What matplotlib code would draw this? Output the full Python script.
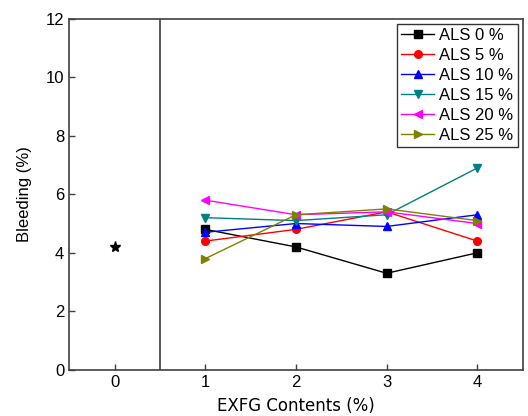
import numpy as np
import matplotlib
matplotlib.use("Agg")
import matplotlib.pyplot as plt

plt.rcParams['font.family'] = ['Liberation Sans', 'DejaVu Sans']
plt.rcParams['font.size'] = 12

# EXFG content (%) and bleeding (%) per ALS dosage
exfg = [1, 2, 3, 4]
series_names = ["ALS 0 %", "ALS 5 %", "ALS 10 %", "ALS 15 %", "ALS 20 %", "ALS 25 %"]
als0 = [4.8, 4.2, 3.3, 4.0]
als5 = [4.4, 4.8, 5.4, 4.4]
als10 = [4.7, 5.0, 4.9, 5.3]
als15 = [5.2, 5.1, 5.3, 6.9]
als20 = [5.8, 5.3, 5.4, 5.0]
als25 = [3.8, 5.3, 5.5, 5.1]

# reference mix without EXFG
plain_x = [0]
plain_y = [4.2]

series = [als0, als5, als10, als15, als20, als25]
colors = ['black', 'red', 'blue', '#008080', 'magenta', '#808000']
markers = ['s', 'o', '^', 'v', '<', '>']

fig, ax = plt.subplots(figsize=(5.28, 4.16), dpi=100)
fig.subplots_adjust(left=0.131, right=0.990, top=0.955, bottom=0.111)

for vals, name, c, m in zip(series, series_names, colors, markers):
    ax.plot(exfg, vals, color=c, marker=m, markersize=5.5, linewidth=1, label=name)

ax.plot(plain_x, plain_y, linestyle='none', marker='*', color='black', markersize=8)

# separator between plain mix and EXFG mixes
ax.axvline(0.5, color='#404040', linewidth=1.2)

ax.set_xlim(-0.5, 4.5)
ax.set_ylim(0, 12)
ax.set_xticks([0, 1, 2, 3, 4])
ax.set_yticks(np.arange(0, 13, 2))
ax.tick_params(direction='in', length=4, width=1, colors='#404040', labelcolor='black', labelsize=12)

for s in ax.spines.values():
    s.set_color('#404040')
    s.set_linewidth(1.2)

ax.set_xlabel("EXFG Contents (%)", fontsize=12, family=['DejaVu Sans'], labelpad=5)
ax.set_ylabel("Bleeding (%)", fontsize=12, labelpad=10)

leg = ax.legend(loc='upper right', fontsize=12, frameon=True, fancybox=False,
                edgecolor='black', handlelength=2.0, handletextpad=0.3,
                labelspacing=0.3, borderpad=0.25, borderaxespad=0.3)
leg.get_frame().set_linewidth(1)

plt.savefig("out.png", dpi=100)
plt.close()
